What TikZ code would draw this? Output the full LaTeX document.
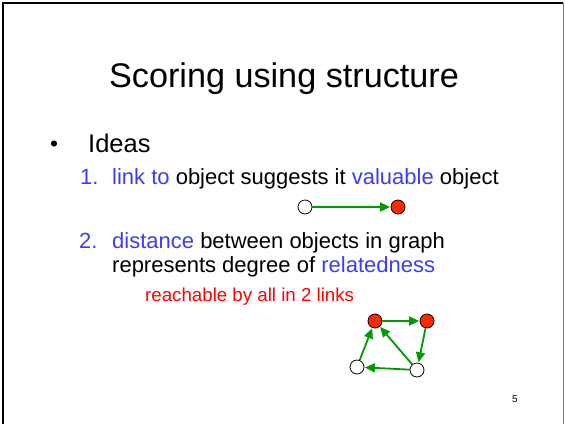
\documentclass[tikz,border=0pt]{standalone}
\usepackage{fontspec}
\setmainfont{Liberation Sans}
\usetikzlibrary{arrows.meta}
\definecolor{ideablue}{RGB}{60,60,245}
\definecolor{linkgreen}{RGB}{0,155,0}
\definecolor{hotred}{RGB}{255,40,0}
\tikzset{
  objnode/.style={circle, draw=black, line width=0.8pt, fill=white, minimum size=14pt, inner sep=0pt},
  hotnode/.style={objnode, fill=hotred},
  linkarrow/.style={draw=linkgreen, line width=1.8pt, -{Triangle[length=10pt,width=9pt]}, shorten >=0.5pt},
  txt/.style={anchor=base west, inner sep=0pt}
}
\newcommand{\bigsize}{\fontsize{34.2}{40}\selectfont}
\newcommand{\midsize}{\fontsize{25.5}{30}\selectfont}
\newcommand{\itemsize}{\fontsize{22}{26}\selectfont}
\newcommand{\notesize}{\fontsize{18.7}{22}\selectfont}
\begin{document}
\begin{tikzpicture}[x=1pt, y=-1pt]
  \useasboundingbox (0,0) rectangle (565,424);
  % slide frame
  \draw[line width=2.2pt] (3,424) -- (3,3) -- (563,3);
  \draw[gray, line width=1pt] (563,3) -- (563,424);
  % title
  \node[anchor=base, inner sep=0pt] (title) at (284,87) {\bigsize Scoring using structure};
  % bullet
  \fill (54,143.5) circle (3.1);
  \node[txt] (ideas) at (88,152) {\midsize Ideas};
  % item 1
  \node[txt, text=ideablue] (num1) at (80,184) {\itemsize 1.};
  \node[txt] (item1) at (112,184) {\itemsize \textcolor{ideablue}{link to} object suggests it \textcolor{ideablue}{valuable} object};
  \node[objnode] (src) at (305,207) {};
  \node[hotnode] (dst) at (398,207) {};
  \draw[linkarrow] (src) -- (dst);
  % item 2
  \node[txt, text=ideablue] (num2) at (79,248) {\itemsize 2.};
  \node[txt] (item2a) at (112,248) {\itemsize \textcolor{ideablue}{distance} between objects in graph};
  \node[txt] (item2b) at (112,272) {\itemsize represents degree of \textcolor{ideablue}{relatedness}};
  \node[txt, text=red] (note) at (145,301) {\notesize reachable by all in 2 links};
  % small graph
  \node[hotnode] (a) at (375,321) {};
  \node[hotnode] (b) at (427,321) {};
  \node[objnode] (c) at (357,367) {};
  \node[objnode] (d) at (417,370) {};
  \draw[linkarrow] (a) -- (b);
  \draw[linkarrow] (b) -- (d);
  \draw[linkarrow] (d) -- (a);
  \draw[linkarrow] (d) -- (c);
  \draw[linkarrow] (c) -- (a);
  % page number
  \node[txt] (page) at (512,402) {\fontsize{10}{12}\selectfont 5};
\end{tikzpicture}
\end{document}
